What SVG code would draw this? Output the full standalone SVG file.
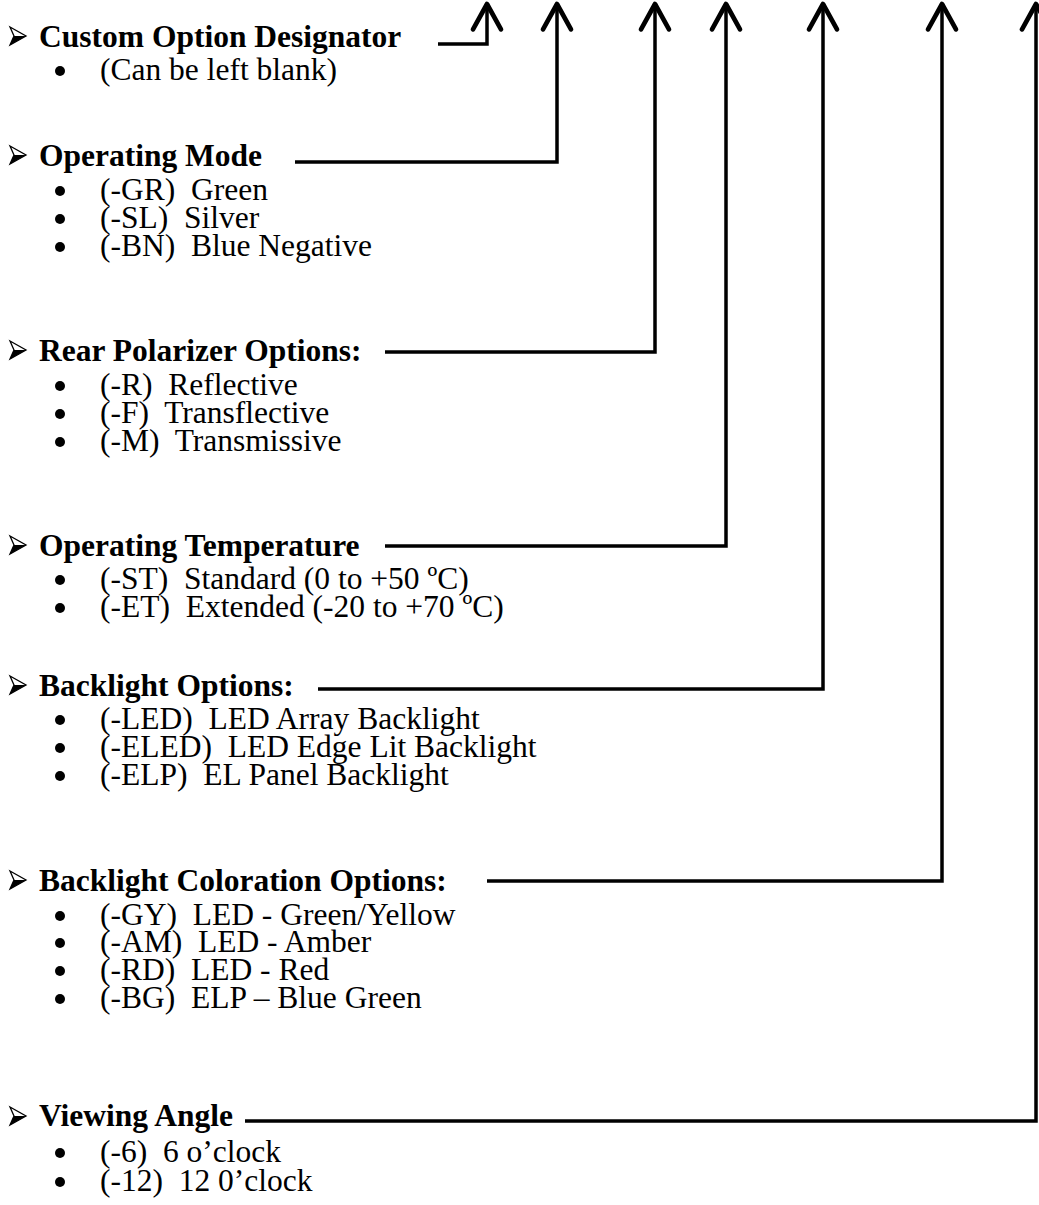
<svg xmlns="http://www.w3.org/2000/svg" xmlns:xlink="http://www.w3.org/1999/xlink" width="1039" height="1205" viewBox="0 0 1039 1205" xml:space="preserve">
<style>
  text { font-family: "Liberation Serif", "Times New Roman", serif; font-size: 31.5px; fill: #000; white-space: pre; }
  .h { font-weight: bold; }
  .conn { fill: none; stroke: #000; stroke-width: 3.5; stroke-linejoin: miter; }
  .dot { fill: #000; }
</style>
<defs>
  <marker id="arr" markerUnits="userSpaceOnUse" orient="auto" refX="0" refY="0" markerWidth="40" markerHeight="40" viewBox="-25 -15 30 30" overflow="visible">
    <path d="M-19,-10.5 L0,0 L-19,10.5" fill="none" stroke="#000" stroke-width="3.5" stroke-linecap="round" stroke-linejoin="round"/>
  </marker>
  <g id="tri">
    <path d="M10,-9 L26,0 L10,9 L14,0 Z" fill="#fff" stroke="#000" stroke-width="1.3" stroke-linejoin="miter"/>
    <path d="M14,0 L26,0 L10,9 Z" fill="#000"/>
  </g>
</defs>
<rect width="1039" height="1205" fill="#fff"/>

<g id="connectors">
  <path class="conn" d="M438,44 H487 V4" marker-end="url(#arr)"/>
  <path class="conn" d="M295,162 H557 V4" marker-end="url(#arr)"/>
  <path class="conn" d="M385,352 H655 V4" marker-end="url(#arr)"/>
  <path class="conn" d="M385,546 H726 V4" marker-end="url(#arr)"/>
  <path class="conn" d="M318,689 H823 V4" marker-end="url(#arr)"/>
  <path class="conn" d="M487,881 H942 V4" marker-end="url(#arr)"/>
  <path class="conn" d="M245,1121 H1036 V4" marker-end="url(#arr)"/>
</g>

<g id="custom-option">
  <use xlink:href="#tri" href="#tri" transform="translate(0,36)"/>
  <text class="h" x="39" y="47">Custom Option Designator</text>
  <circle class="dot" cx="60" cy="71" r="5"/>
  <text x="100" y="80">(Can be left blank)</text>
</g>

<g id="operating-mode">
  <use xlink:href="#tri" href="#tri" transform="translate(0,155)"/>
  <text class="h" x="39" y="166">Operating Mode</text>
  <circle class="dot" cx="60" cy="191" r="5"/>
  <text x="100" y="200">(-GR)  Green</text>
  <circle class="dot" cx="60" cy="219" r="5"/>
  <text x="100" y="228">(-SL)  Silver</text>
  <circle class="dot" cx="60" cy="247" r="5"/>
  <text x="100" y="256">(-BN)  Blue Negative</text>
</g>

<g id="rear-polarizer">
  <use xlink:href="#tri" href="#tri" transform="translate(0,350)"/>
  <text class="h" x="39" y="361">Rear Polarizer Options:</text>
  <circle class="dot" cx="60" cy="386" r="5"/>
  <text x="100" y="395">(-R)  Reflective</text>
  <circle class="dot" cx="60" cy="414" r="5"/>
  <text x="100" y="423">(-F)  Transflective</text>
  <circle class="dot" cx="60" cy="442" r="5"/>
  <text x="100" y="451">(-M)  Transmissive</text>
</g>

<g id="operating-temperature">
  <use xlink:href="#tri" href="#tri" transform="translate(0,545)"/>
  <text class="h" x="39" y="556">Operating Temperature</text>
  <circle class="dot" cx="60" cy="580" r="5"/>
  <text x="100" y="589">(-ST)  Standard (0 to +50 ºC)</text>
  <circle class="dot" cx="60" cy="608" r="5"/>
  <text x="100" y="617">(-ET)  Extended (-20 to +70 ºC)</text>
</g>

<g id="backlight-options">
  <use xlink:href="#tri" href="#tri" transform="translate(0,685)"/>
  <text class="h" x="39" y="696">Backlight Options:</text>
  <circle class="dot" cx="60" cy="720" r="5"/>
  <text x="100" y="729">(-LED)  LED Array Backlight</text>
  <circle class="dot" cx="60" cy="748" r="5"/>
  <text x="100" y="757">(-ELED)  LED Edge Lit Backlight</text>
  <circle class="dot" cx="60" cy="776" r="5"/>
  <text x="100" y="785">(-ELP)  EL Panel Backlight</text>
</g>

<g id="backlight-coloration">
  <use xlink:href="#tri" href="#tri" transform="translate(0,880)"/>
  <text class="h" x="39" y="891">Backlight Coloration Options:</text>
  <circle class="dot" cx="60" cy="916" r="5"/>
  <text x="100" y="925">(-GY)  LED - Green/Yellow</text>
  <circle class="dot" cx="60" cy="943" r="5"/>
  <text x="100" y="952">(-AM)  LED - Amber</text>
  <circle class="dot" cx="60" cy="971" r="5"/>
  <text x="100" y="980">(-RD)  LED - Red</text>
  <circle class="dot" cx="60" cy="999" r="5"/>
  <text x="100" y="1008">(-BG)  ELP – Blue Green</text>
</g>

<g id="viewing-angle">
  <use xlink:href="#tri" href="#tri" transform="translate(0,1116)"/>
  <text class="h" x="39" y="1126">Viewing Angle</text>
  <circle class="dot" cx="60" cy="1153" r="5"/>
  <text x="100" y="1162">(-6)  6 o’clock</text>
  <circle class="dot" cx="60" cy="1182" r="5"/>
  <text x="100" y="1191">(-12)  12 0’clock</text>
</g>
</svg>
